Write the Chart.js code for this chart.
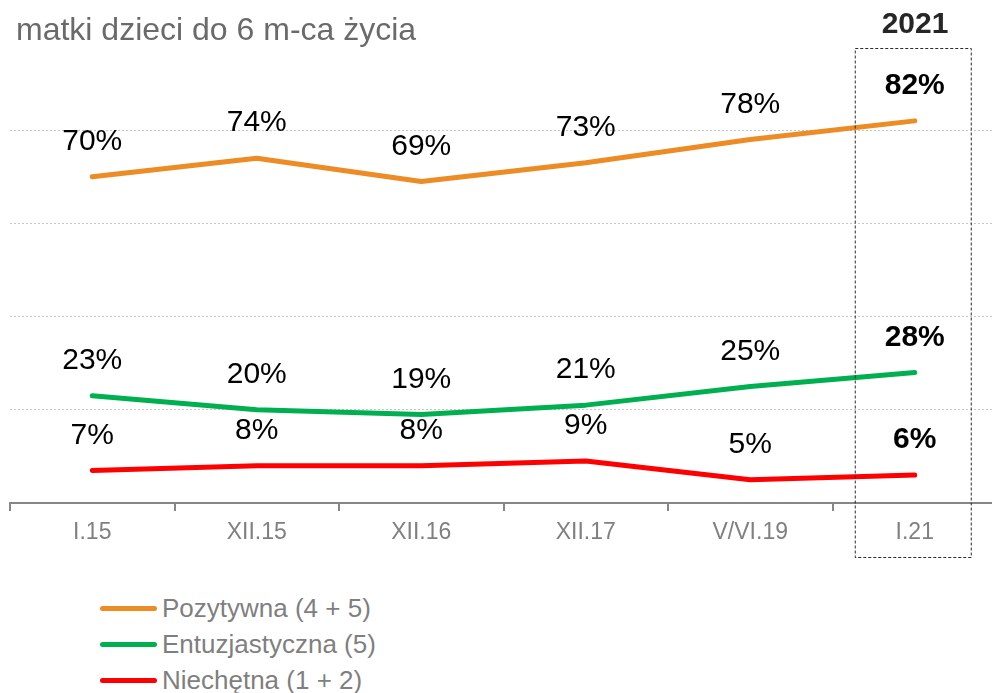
<!DOCTYPE html>
<html>
<head>
<meta charset="utf-8">
<script src="https://cdn.jsdelivr.net/npm/chart.js@4/dist/chart.umd.min.js"></script>
<style>
  body { margin: 0; background: #fff; overflow: hidden; width: 992px; height: 693px; position: relative; font-family: "Liberation Sans", Arial, sans-serif; }
  #wykres { position: absolute; left: 0; top: 0; }
  .tytul { position: absolute; left: 16px; top: 11px; font-size: 32px; color: #6a6a6a; white-space: nowrap; }
  .rok { position: absolute; left: 855px; width: 120px; top: 6px; text-align: center; font-size: 30px; font-weight: bold; color: #262626; }
  .legenda { position: absolute; left: 100px; top: 590px; }
  .legenda div { height: 36px; line-height: 36px; font-size: 26px; color: #7f7f7f; white-space: nowrap; }
  .legenda span { display: inline-block; width: 57px; height: 5px; border-radius: 3px; vertical-align: middle; margin-right: 5px; margin-top: -4px; }
</style>
</head>
<body>
<canvas id="wykres" width="1000" height="564"></canvas>
<div class="tytul">matki dzieci do 6 m-ca życia</div>
<div class="rok">2021</div>
<div class="legenda" id="legenda"></div>
<script>
const okresy = ['I.15', 'XII.15', 'XII.16', 'XII.17', 'V/VI.19', 'I.21'];
const pozytywna = [70, 74, 69, 73, 78, 82];
const entuzjastyczna = [23, 20, 19, 21, 25, 28];
const niechetna = [7, 8, 8, 9, 5, 6];
const nazwy = ['Pozytywna (4 + 5)', 'Entuzjastyczna (5)', 'Niechętna (1 + 2)'];
const kolory = ['#ED8B25', '#00B050', '#FF0000'];

// legenda pod wykresem
const leg = document.getElementById('legenda');
nazwy.forEach((n, i) => {
    leg.innerHTML += '<div><span style="background:' + kolory[i] + '"></span>' + n + '</div>';
});

// etykiety wartosci nad punktami
const etykiety = {
    id: 'etykiety',
    afterDatasetsDraw(chart) {
        const ctx = chart.ctx;
        ctx.save();
        ctx.textAlign = 'center';
        ctx.textBaseline = 'middle';
        ctx.fillStyle = '#000';
        chart.data.datasets.forEach((ds, d) => {
            chart.getDatasetMeta(d).data.forEach((p, i) => {
                const ostatni = i == ds.data.length - 1;
                ctx.font = (ostatni ? 'bold ' : '') + '30px "Liberation Sans", Arial, sans-serif';
                ctx.fillText(ds.data[i] + '%', p.x, p.y - 35);
            });
        });
        ctx.restore();
    }
};

// przerywana ramka wokol ostatniego okresu
const ramka = {
    id: 'ramka',
    afterDraw(chart) {
        const ctx = chart.ctx;
        const x = chart.scales.x.getPixelForValue(okresy.length - 1);
        ctx.save();
        ctx.strokeStyle = '#2a2a2a';
        ctx.lineWidth = 1;
        ctx.setLineDash([3, 2]);
        ctx.strokeRect(x - 59.5, 48.5, 116, 509);
        ctx.restore();
    }
};

function seria(nazwa, dane, kolor) {
    return {
        label: nazwa,
        data: dane,
        borderColor: kolor,
        backgroundColor: kolor,
        borderWidth: 5,
        borderCapStyle: 'round',
        borderJoinStyle: 'round',
        pointRadius: 0,
        tension: 0
    };
}

new Chart(document.getElementById('wykres'), {
    type: 'line',
    data: {
        labels: okresy,
        datasets: [
            seria(nazwy[0], pozytywna, kolory[0]),
            seria(nazwy[1], entuzjastyczna, kolory[1]),
            seria(nazwy[2], niechetna, kolory[2])
        ]
    },
    options: {
        responsive: false,
        animation: false,
        layout: { padding: { left: 10, right: 3, top: 37, bottom: 0 } },
        plugins: { legend: { display: false }, tooltip: { enabled: false } },
        scales: {
            x: {
                offset: true,
                afterFit: s => { s.height = 61; },
                grid: { offset: true, drawOnChartArea: false, color: '#868686', tickLength: 8, lineWidth: 2 },
                border: { color: '#868686', width: 2 },
                ticks: { color: '#808080', padding: 8, font: { size: 23, family: '"Liberation Sans", Arial, sans-serif' } }
            },
            y: {
                min: 0,
                max: 100,
                afterFit: s => { s.width = 0; },
                ticks: { display: false, stepSize: 20 },
                border: { display: false, dash: [2, 2] },
                grid: {
                    drawTicks: false,
                    color: c => (c.tick.value > 0 && c.tick.value < 100) ? '#c8c8c8' : 'rgba(0,0,0,0)'
                }
            }
        }
    },
    plugins: [etykiety, ramka]
});
</script>
</body>
</html>
